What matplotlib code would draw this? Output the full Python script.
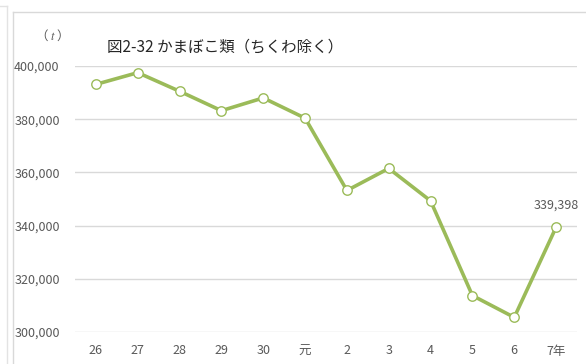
import matplotlib.pyplot as plt
from matplotlib.lines import Line2D
from matplotlib.ticker import FuncFormatter

plt.rcParams['font.family'] = ['Noto Sans CJK JP', 'DejaVu Sans']
plt.rcParams['mathtext.fontset'] = 'stix'

years = ['26', '27', '28', '29', '30', '元', '2', '3', '4', '5', '6', '7年']
tons = [393100, 397500, 390500, 383200, 388000, 380400,
        353200, 361500, 349300, 313700, 305500, 339398]
yticks = [300000, 320000, 340000, 360000, 380000, 400000]

green = '#9BBB59'
gray = '#595959'

W, H = 586, 364
fig = plt.figure(figsize=(W / 100, H / 100), dpi=100)
fig.patch.set_facecolor('white')

# plot area in pixel terms
left, right, top, bottom = 75, 577, 66, 332
ax = fig.add_axes([left / W, 1 - bottom / H, (right - left) / W, (bottom - top) / H])

x = list(range(len(years)))
ax.plot(x, tons, color=green, lw=2.6, marker='o', ms=6.8,
        mfc='white', mec=green, mew=1.0, clip_on=False, zorder=3)

ax.set_xlim(-0.5, len(years) - 0.5)
ax.set_ylim(300000, 400000)
ax.set_yticks(yticks)
ax.yaxis.set_major_formatter(FuncFormatter(lambda v, p: f'{int(v):,}'))
ax.set_xticks(x)
ax.set_xticklabels(years)
ax.grid(axis='y', color='#D9D9D9', lw=1)
ax.set_axisbelow(True)
for s in ax.spines.values():
    s.set_visible(False)
ax.tick_params(length=0, colors=gray, labelsize=9)
ax.tick_params(axis='y', pad=11)
ax.tick_params(axis='x', pad=9)

# value label on the latest year
ax.annotate(f'{tons[-1]:,}', (x[-1], tons[-1]), xytext=(0, 11),
            textcoords='offset points', ha='center', va='bottom',
            fontsize=9, color=gray)

fig.text(107 / W, 1 - 47 / H, '図2-32 かまぼこ類（ちくわ除く）',
         fontsize=11.2, color='#262626', va='center', ha='left')
fig.text(49 / W, 1 - 35 / H, '（ $t$ ）', fontsize=9, color=gray,
         va='center', ha='center')

# chart frame
border = '#D9D9D9'
fig.add_artist(Line2D([13 / W, 13 / W], [0, 1 - 12 / H], color=border, lw=1))
fig.add_artist(Line2D([13 / W, 1], [1 - 12 / H, 1 - 12 / H], color=border, lw=1))
fig.add_artist(Line2D([7 / W, 7 / W], [0, 1 - 6 / H], color='#E3E3E3', lw=1))
fig.add_artist(Line2D([0, 7 / W], [1 - 6 / H, 1 - 6 / H], color='#E3E3E3', lw=1))

fig.savefig('out.png', dpi=100)
